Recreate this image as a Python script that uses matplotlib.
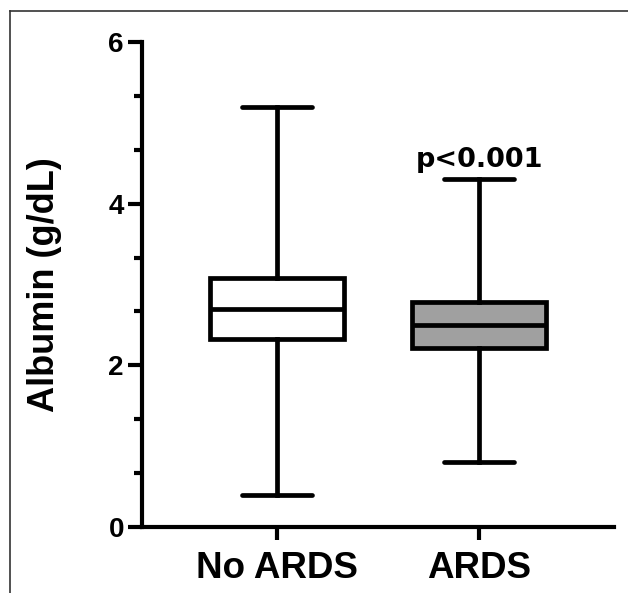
import matplotlib
matplotlib.use('Agg')
import matplotlib.pyplot as plt
from matplotlib.lines import Line2D
from matplotlib.ticker import MultipleLocator

# data
groups = ['No ARDS', 'ARDS']
medians = [2.7, 2.5]
q1 = [2.33, 2.22]
q3 = [3.08, 2.78]
whis_lo = [0.4, 0.8]
whis_hi = [5.2, 4.3]
fills = ['white', '#a0a0a0']
y_ticks = [0, 2, 4, 6]
p_text = 'p<0.001'

fig = plt.figure(figsize=(6.28, 5.93), dpi=100)
ax = fig.add_axes([0.2261, 0.1113, 0.7516, 0.8179])

stats = []
for i in range(len(groups)):
    stats.append({'med': medians[i], 'q1': q1[i], 'q3': q3[i],
                  'whislo': whis_lo[i], 'whishi': whis_hi[i], 'fliers': []})

bp = ax.bxp(stats, positions=[1, 2], widths=0.663, capwidths=0.35,
            showfliers=False, patch_artist=True,
            boxprops=dict(linewidth=3.4, edgecolor='black', joinstyle='miter'),
            medianprops=dict(color='black', linewidth=3.4, solid_capstyle='butt'),
            whiskerprops=dict(color='black', linewidth=3.4),
            capprops=dict(color='black', linewidth=3.4, solid_capstyle='round'))
for patch, c in zip(bp['boxes'], fills):
    patch.set_facecolor(c)

ax.set_xlim(0.332, 2.668)
ax.set_ylim(0, 6)
ax.set_yticks(y_ticks)
ax.yaxis.set_minor_locator(MultipleLocator(2 / 3))
ax.set_xticks([1, 2])
ax.set_xticklabels(groups, fontfamily='Liberation Sans', fontweight='bold', fontsize=26.5)
for lab in ax.get_yticklabels():
    lab.set_fontfamily('Liberation Sans')
    lab.set_fontweight('bold')
    lab.set_fontsize(20)

for s in ['top', 'right']:
    ax.spines[s].set_visible(False)
for s in ['left', 'bottom']:
    ax.spines[s].set_linewidth(3)
    ax.spines[s].set_capstyle('projecting')

ax.tick_params(axis='y', which='major', length=10, width=3, pad=3)
ax.tick_params(axis='y', which='minor', length=6, width=3)
ax.tick_params(axis='x', which='major', length=9.5, width=3, pad=8)

ax.set_ylabel('Albumin (g/dL)', fontfamily='Liberation Sans', fontweight='bold', fontsize=26)
ax.yaxis.set_label_coords(-0.17, 0.5)

ax.text(2, 4.45, p_text, ha='center', va='baseline', fontfamily='DejaVu Sans',
        fontweight='bold', fontsize=19.5)

# thin frame around the panel
fig.add_artist(Line2D([0.0159, 0.0159], [0, 0.9815], transform=fig.transFigure,
                      color='#333333', linewidth=1.2))
fig.add_artist(Line2D([0.0159, 1.0], [0.9815, 0.9815], transform=fig.transFigure,
                      color='#333333', linewidth=1.2))

fig.savefig('out.png', dpi=100)
